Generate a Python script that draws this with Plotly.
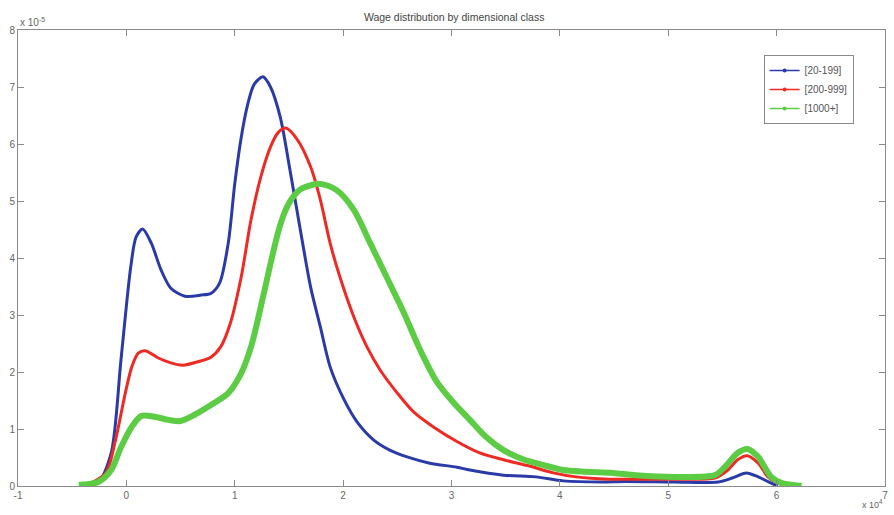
import plotly.graph_objects as go

# x in units of 1e4, y in units of 1e-5
blue_x = [-0.41, -0.26, -0.14, -0.05, 0.04, 0.09, 0.15, 0.23, 0.32, 0.41, 0.54, 0.69, 0.78, 0.86, 0.94, 1.0, 1.06, 1.12, 1.18, 1.26,
          1.33, 1.42, 1.51, 1.61, 1.70, 1.79, 1.88, 2.01, 2.13, 2.28, 2.43, 2.59, 2.80, 3.05, 3.17, 3.48, 3.78, 4.03, 4.39, 4.6,
          5.06, 5.46, 5.59, 5.72, 5.83, 5.95, 6.01]
blue_y = [0.0, 0.07, 0.58, 2.21, 3.84, 4.37, 4.51, 4.26, 3.79, 3.47, 3.33, 3.35, 3.38, 3.56, 4.26, 5.30, 6.12, 6.70, 7.05, 7.18,
          7.0, 6.47, 5.54, 4.44, 3.49, 2.79, 2.09, 1.51, 1.12, 0.81, 0.63, 0.51, 0.40, 0.33, 0.28, 0.19, 0.16, 0.09, 0.07, 0.08,
          0.07, 0.07, 0.14, 0.23, 0.16, 0.05, 0.0]

red_x = [-0.38, -0.19, -0.10, -0.01, 0.05, 0.11, 0.18, 0.29, 0.41, 0.52, 0.66, 0.78, 0.87, 0.96, 1.06, 1.15, 1.24, 1.33, 1.40,
         1.47, 1.58, 1.70, 1.79, 1.88, 1.97, 2.10, 2.22, 2.34, 2.50, 2.65, 2.83, 3.05, 3.26, 3.48, 3.72, 3.94, 4.15, 4.45, 4.70,
         5.06, 5.43, 5.55, 5.64, 5.73, 5.83, 5.92, 6.01, 6.10]
red_y = [0.0, 0.23, 0.81, 1.63, 2.09, 2.33, 2.37, 2.25, 2.16, 2.12, 2.18, 2.26, 2.44, 2.86, 3.67, 4.67, 5.42, 5.95, 6.20,
         6.28, 6.07, 5.60, 5.02, 4.26, 3.67, 2.96, 2.44, 2.04, 1.63, 1.30, 1.04, 0.78, 0.58, 0.46, 0.35, 0.23, 0.16, 0.12, 0.12,
         0.12, 0.14, 0.28, 0.46, 0.53, 0.40, 0.16, 0.05, 0.0]

green_x = [-0.44, -0.26, -0.14, -0.05, 0.05, 0.14, 0.27, 0.39, 0.50, 0.63, 0.78, 0.94, 1.06, 1.15, 1.24, 1.33, 1.40, 1.46, 1.53,
           1.62, 1.79, 1.94, 2.10, 2.25, 2.40, 2.56, 2.71, 2.86, 3.02, 3.17, 3.32, 3.48, 3.66, 3.84, 4.03, 4.24, 4.49, 4.70, 5.06,
           5.43, 5.52, 5.64, 5.73, 5.83, 5.95, 6.05, 6.23]
green_y = [0.02, 0.07, 0.28, 0.68, 1.04, 1.23, 1.21, 1.16, 1.14, 1.25, 1.42, 1.63, 1.98, 2.44, 3.14, 3.90, 4.45, 4.80, 5.05,
           5.22, 5.30, 5.19, 4.84, 4.26, 3.67, 3.04, 2.39, 1.84, 1.46, 1.16, 0.86, 0.63, 0.47, 0.37, 0.28, 0.25, 0.23, 0.19, 0.16,
           0.19, 0.33, 0.58, 0.65, 0.51, 0.16, 0.05, 0.0]

names = ["[20-199]", "[200-999]", "[1000+]"]
colors = ["#2a3aa6", "#ee2a24", "#5ccc44"]
widths = [3, 3, 6]

x_ticks = [-1, 0, 1, 2, 3, 4, 5, 6, 7]
y_ticks = [0, 1, 2, 3, 4, 5, 6, 7, 8]

fig = go.Figure()
series = [(blue_x, blue_y), (red_x, red_y), (green_x, green_y)]
for (xs, ys), n, c, w in zip(series, names, colors, widths):
    fig.add_trace(go.Scatter(x=xs, y=ys, mode="lines", line=dict(color=c, width=w, shape="spline", smoothing=0.8),
                             showlegend=False, hoverinfo="skip"))
for n, c in zip(names, colors):
    fig.add_trace(go.Scatter(x=[None], y=[None], mode="lines+markers", name=n,
                             line=dict(color=c, width=1.5), marker=dict(color=c, size=4)))

font_family = "Liberation Sans, Arial, sans-serif"
axis_common = dict(showline=True, linecolor="#8a8a8a", linewidth=1, mirror="allticks", ticks="inside",
                   ticklen=6, tickcolor="#8a8a8a", showgrid=False, zeroline=False,
                   tickfont=dict(family=font_family, size=10, color="#666666"))

fig.update_layout(
    width=894, height=515,
    margin=dict(l=18, r=6, t=30, b=29),
    paper_bgcolor="white", plot_bgcolor="white",
    title=dict(text="Wage distribution by dimensional class", x=0.508, xanchor="center", y=1 - 17/515, yanchor="middle",
               font=dict(family=font_family, size=10.5, color="#444444")),
    xaxis=dict(range=[-1, 7], tickvals=x_ticks, ticktext=[str(v) for v in x_ticks], **axis_common),
    yaxis=dict(range=[0, 8], tickvals=y_ticks, ticktext=[str(v) for v in y_ticks], **axis_common),
    legend=dict(x=0.86, y=0.945, xanchor="left", yanchor="top", bgcolor="white",
                bordercolor="#8a8a8a", borderwidth=1, itemwidth=30, tracegroupgap=0,
                font=dict(family=font_family, size=10, color="#555555")),
    showlegend=True,
)
fig.add_annotation(text="x 10<sup>-5</sup>", xref="paper", yref="paper", x=0.0, y=1.0, xanchor="left", yanchor="bottom",
                   showarrow=False, font=dict(family=font_family, size=10, color="#666666"))
fig.add_annotation(text="x 10<sup>4</sup>", xref="paper", yref="paper", x=1.0, y=-0.058, xanchor="right", yanchor="bottom",
                   showarrow=False, font=dict(family=font_family, size=9, color="#666666"))

fig.write_html("out.html")
